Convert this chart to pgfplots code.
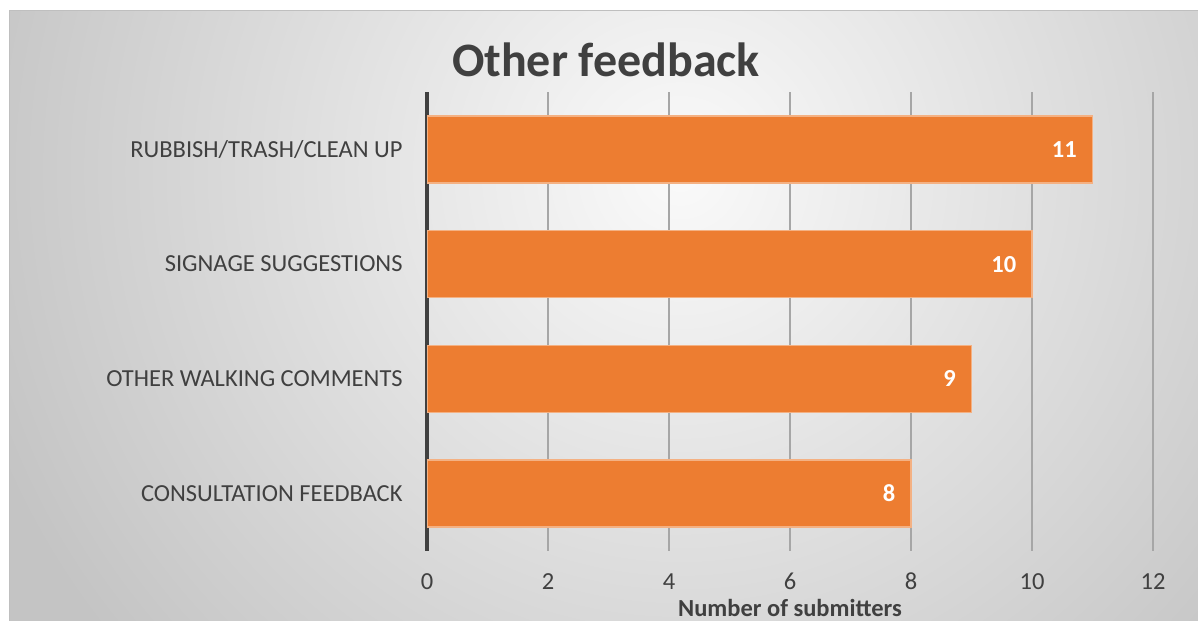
\documentclass[border=0pt]{standalone}
\usepackage{pgfplots}
\pgfplotsset{compat=1.18}
\usepackage{fontspec}
\setmainfont{Carlito}
\definecolor{txt}{HTML}{404040}
\definecolor{barfill}{HTML}{ED7D31}
\definecolor{barline}{HTML}{F4B183}
\definecolor{gridc}{HTML}{A6A6A6}
\definecolor{bglight}{HTML}{FAFAFA}
\definecolor{bgdark}{HTML}{C4C4C4}
\definecolor{bgedge}{HTML}{BFBFBF}
\begin{document}
\begin{tikzpicture}
\begin{scope}[x=1bp,y=1bp]
\useasboundingbox (0,0) rectangle (1198,621);
\fill[white] (0,0) rectangle (1198,621);
\begin{scope}
\clip (9,0) rectangle (1198,610);
\fill[bgdark] (9,0) rectangle (1198,610);
\shade[inner color=bglight, outer color=bgdark] (680,450) circle (740);
\end{scope}
\draw[bgedge, line width=1bp] (9,0) -- (9,610) -- (1198,610);
\node[font=\fontsize{48bp}{52bp}\selectfont\bfseries, text=txt, anchor=base, inner sep=0pt] at (606,544) {Other feedback};
\end{scope}
\begin{axis}[
  at={(427bp,70bp)}, anchor=south west,
  scale only axis, width=726bp, height=459bp,
  xbar, bar width=67bp, bar shift=0pt,
  xmin=0, xmax=12, ymin=-0.5, ymax=3.5,
  xtick={0,2,4,6,8,10,12}, ytick={0,1,2,3},
  yticklabels={CONSULTATION FEEDBACK, OTHER WALKING COMMENTS, SIGNAGE SUGGESTIONS, RUBBISH/TRASH/CLEAN UP},
  axis x line*=bottom, axis y line*=left,
  x axis line style={draw=none},
  y axis line style={line width=4.5bp, color=txt},
  xmajorgrids, grid style={gridc, line width=1.5bp},
  tick style={draw=none},
  /pgf/number format/assume math mode=true,
  xticklabel style={anchor=base, yshift=-38.5bp, inner sep=0pt, font=\fontsize{24.5bp}{28bp}\selectfont, text=txt},
  yticklabel style={anchor=base east, xshift=-20bp, yshift=-7.8bp, inner sep=0pt, font=\fontsize{24.5bp}{28bp}\selectfont, text=txt},
  xlabel={Number of submitters},
  xlabel style={at={(axis description cs:0.5,0)}, anchor=base, yshift=-66bp, inner sep=0pt, font=\fontsize{24.5bp}{28bp}\selectfont\bfseries, text=txt},
  nodes near coords,
  nodes near coords style={anchor=east, xshift=-15bp, inner sep=0pt, font=\fontsize{24.5bp}{28bp}\selectfont\bfseries, text=white},
]
\addplot[fill=barfill, draw=barline, line width=1.5bp] coordinates {(8,0) (9,1) (10,2) (11,3)};
\end{axis}
\end{tikzpicture}
\end{document}
